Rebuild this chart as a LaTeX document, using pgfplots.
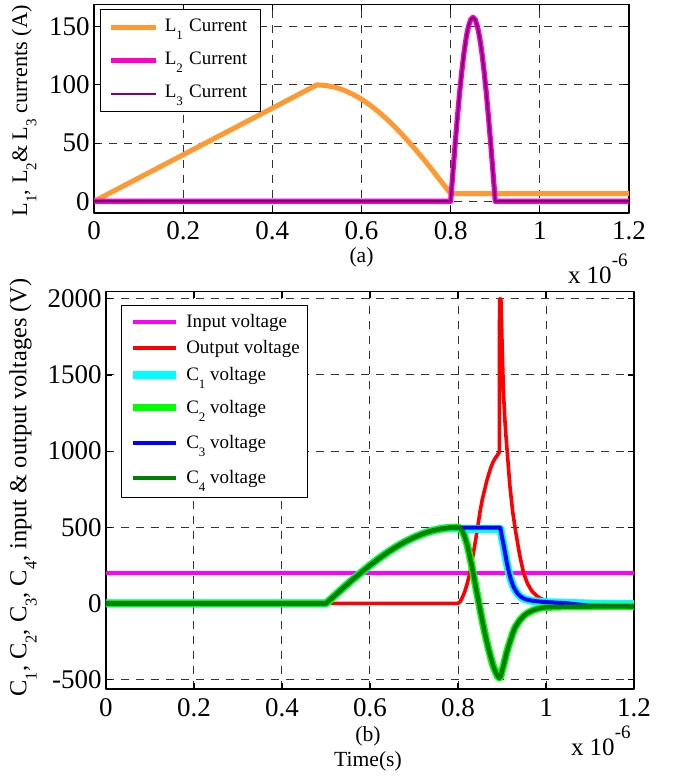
\documentclass[border=0pt]{standalone}
\usepackage{fontspec}
\setmainfont{Liberation Serif}
\usepackage{graphicx}
\usepackage{pgfplots}
\pgfplotsset{compat=1.18}
\definecolor{lorange}{RGB}{255,153,51}
\definecolor{lmag}{RGB}{255,0,204}
\definecolor{lpurp}{RGB}{125,0,120}
\definecolor{vin}{RGB}{255,0,255}
\definecolor{vout}{RGB}{255,0,0}
\definecolor{cone}{RGB}{0,255,255}
\definecolor{ctwo}{RGB}{0,255,0}
\definecolor{cthree}{RGB}{0,0,255}
\definecolor{cfour}{RGB}{0,128,0}
\newcommand{\sub}[1]{\raisebox{-0.42em}{\scalebox{0.68}{#1}}}
\pgfplotsset{
  mystyle/.style={
    scale only axis,
    clip mode=individual,
    xmin=0, xmax=1.2,
    xtick={0,0.2,0.4,0.6,0.8,1,1.2},
    grid=major,
    major grid style={black!80, line width=0.5pt, dash pattern=on 4pt off 3.5pt},
    tick align=inside,
    major tick length=3pt,
    tick style={black, line width=0.6pt},
    axis line style={black, line width=0.7pt},
    tick label style={font=\fontsize{13.5}{15}\selectfont},
    /pgf/number format/assume math mode=true,
    /pgf/number format/1000 sep={},
    scaled ticks=false,
    xticklabel style={anchor=base, yshift=-13.5pt},
    yticklabel style={anchor=east, inner xsep=0pt, xshift=-2pt},
    line join=round,
  }
}
\begin{document}
\begin{tikzpicture}
\useasboundingbox (0,0) rectangle (337.5pt,389pt);
% ---------------- (a) ----------------
\begin{axis}[mystyle,
  at={(47pt,282.5pt)}, anchor=south west,
  width=267.5pt, height=104.25pt,
  ymin=-10, ymax=169,
  ytick={0,50,100,150},
  xlabel={(a)},
  xlabel style={at={(axis description cs:0.5,0)}, anchor=base, yshift=-25pt, font=\fontsize{10.8}{12}\selectfont},
  ylabel={L\sub{1}, L\sub{2}\& L\sub{3} currents (A)},
  ylabel style={at={(axis description cs:-0.1252,0.49)}, anchor=base, font=\fontsize{11.1}{13}\selectfont},
  legend image code/.code={\draw[#1] (0pt,2pt) -- (22.5pt,2pt);},
  legend style={at={(axis description cs:0.0112,0.978)}, anchor=north west,
    draw=black, line width=0.6pt, fill=white,
    inner xsep=4pt, inner ysep=0.75pt, row sep=0pt, column sep=3pt,
    font=\fontsize{9.5}{11}\selectfont,
    cells={anchor=base west},
    nodes={inner xsep=0pt, inner ysep=3.25pt, text height=7pt, text depth=3pt, text width=44pt}},
]
\addplot[lorange, line width=2.5pt] coordinates {
(0,0) (0.5,100) (0.52,99.5) (0.54,98.0) (0.56,95.5) (0.58,92.0) (0.60,87.7)
(0.62,82.4) (0.64,76.3) (0.66,69.5) (0.68,61.9) (0.70,53.7) (0.72,45.0)
(0.74,35.9) (0.76,26.3) (0.78,16.4) (0.80,6.6) (1.2,6.6)
};
\addlegendentry{L\sub{1} Current}
\addplot[lmag, line width=2.6pt] coordinates {
(0,0) (0.8,0) (0.805,24.7) (0.81,48.8) (0.815,71.7) (0.82,92.9) (0.825,111.7)
(0.83,127.8) (0.835,140.8) (0.84,150.3) (0.845,156.1) (0.85,158) (0.855,156.1)
(0.86,150.3) (0.865,140.8) (0.87,127.8) (0.875,111.7) (0.88,92.9) (0.885,71.7)
(0.89,48.8) (0.895,24.7) (0.9,0) (1.2,0)
};
\addlegendentry{L\sub{2} Current}
\addplot[lpurp, line width=1.1pt] coordinates {
(0,0) (0.8,0) (0.805,24.7) (0.81,48.8) (0.815,71.7) (0.82,92.9) (0.825,111.7)
(0.83,127.8) (0.835,140.8) (0.84,150.3) (0.845,156.1) (0.85,158) (0.855,156.1)
(0.86,150.3) (0.865,140.8) (0.87,127.8) (0.875,111.7) (0.88,92.9) (0.885,71.7)
(0.89,48.8) (0.895,24.7) (0.9,0) (1.2,0)
};
\addlegendentry{L\sub{3} Current}
\node[anchor=base east, xshift=-0.5pt, yshift=-35.5pt, font=\fontsize{12.5}{14}\selectfont, inner sep=0pt]
  at (rel axis cs:1,0) {x 10\raisebox{8.5pt}{\fontsize{9.5}{10}\selectfont -6}};
\end{axis}
% ---------------- (b) ----------------
\begin{axis}[mystyle,
  at={(53pt,44.5pt)}, anchor=south west,
  width=264pt, height=198.6pt,
  ymin=-562, ymax=2046,
  ytick={-500,0,500,1000,1500,2000},
  xlabel={(b)},
  xlabel style={at={(axis description cs:0.5,0)}, anchor=base, xshift=-1pt, yshift=-26.5pt, font=\fontsize{10.8}{12}\selectfont},
  ylabel={C\sub{1}, C\sub{2}, C\sub{3}, C\sub{4}, input \& output voltages (V)},
  ylabel style={at={(axis description cs:-0.1506,0.5076)}, anchor=base, font=\fontsize{12.2}{13}\selectfont},
  legend image code/.code={\draw[#1] (0pt,3pt) -- (21.5pt,3pt);},
  legend style={at={(axis description cs:0.0278,0.9665)}, anchor=north west,
    draw=black, line width=0.6pt, fill=white,
    inner xsep=4pt, inner ysep=0.5pt, row sep=0pt, column sep=3pt,
    font=\fontsize{9.5}{11}\selectfont,
    cells={anchor=base west},
    nodes={inner xsep=0pt, inner ysep=1.5pt, text height=7.5pt, text depth=3pt}},
]
\addplot[vin, line width=2pt] coordinates {(0,200) (1.2,200)};
\addlegendentry[text height=9pt, text depth=2.5pt]{Input voltage}
\addplot[vout, line width=1.8pt] coordinates {
(0,0) (0.8,0) (0.805,12) (0.81,40) (0.815,75) (0.82,120) (0.825,175) (0.83,245)
(0.835,330) (0.84,415) (0.845,505) (0.85,600) (0.855,680) (0.86,740) (0.865,800)
(0.87,850) (0.875,895) (0.88,930) (0.885,955) (0.89,975) (0.894,995)
(0.8945,2000) (0.8975,2000) (0.8995,1780) (0.9015,1560) (0.9035,1380) (0.906,1230)
(0.909,1100) (0.912,990) (0.918,770) (0.924,610) (0.93,490) (0.94,320) (0.949,200)
(0.958,130) (0.968,80) (0.978,52) (0.987,33) (1.0,18) (1.02,11) (1.2,10)
};
\addlegendentry[text depth=3pt]{Output voltage}
\addplot[cone, line width=4pt] coordinates {
(0,0) (0.5,0) (0.52,52) (0.54,104) (0.56,155) (0.58,203) (0.6,250) (0.62,294)
(0.64,335) (0.66,372) (0.68,405) (0.7,433) (0.72,457) (0.74,476) (0.76,489)
(0.78,495) (0.8,492) (0.805,490) (0.896,490) (0.898,460) (0.9,430) (0.903,390)
(0.906,345) (0.91,280) (0.914,225) (0.918,178) (0.922,140) (0.926,110) (0.93,88)
(0.937,58) (0.945,38) (0.953,27) (0.962,20) (0.972,15) (0.985,11) (1.0,8)
(1.05,3) (1.1,-2) (1.2,-5)
};
\addlegendentry[text depth=6pt]{C\sub{1} voltage}
\addplot[ctwo, line width=3.7pt] coordinates {
(0,0) (0.5,0) (0.52,52) (0.54,104) (0.56,155) (0.58,203) (0.6,250) (0.62,294)
(0.64,335) (0.66,372) (0.68,405) (0.7,433) (0.72,457) (0.74,476) (0.76,489)
(0.78,497) (0.8,500) (0.805,493) (0.81,475) (0.815,440) (0.82,395) (0.825,335)
(0.83,265) (0.835,195) (0.84,115) (0.845,40) (0.85,-35) (0.855,-110) (0.86,-180)
(0.865,-245) (0.87,-305) (0.875,-360) (0.88,-410) (0.885,-448) (0.89,-478)
(0.894,-490) (0.897,-480) (0.9,-445) (0.905,-390) (0.91,-330) (0.915,-280)
(0.92,-235) (0.925,-192) (0.93,-157) (0.94,-112) (0.95,-80) (0.96,-60)
(0.97,-46) (0.98,-36) (0.99,-29) (1.0,-25) (1.05,-21) (1.2,-20)
};
\addlegendentry[text depth=7pt]{C\sub{2} voltage}
\addplot[cthree, line width=2pt] coordinates {
(0,0) (0.5,0) (0.52,52) (0.54,104) (0.56,155) (0.58,203) (0.6,250) (0.62,294)
(0.64,335) (0.66,372) (0.68,405) (0.7,433) (0.72,457) (0.74,476) (0.76,489)
(0.78,497) (0.8,498) (0.896,498) (0.898,465) (0.9,435) (0.903,393)
(0.906,347) (0.91,282) (0.914,226) (0.918,179) (0.922,141) (0.926,111) (0.93,89)
(0.937,59) (0.945,39) (0.953,28) (0.962,21) (0.972,16) (0.985,12) (1.0,9)
(1.05,0) (1.1,-16) (1.2,-19)
};
\addlegendentry[text depth=7pt]{C\sub{3} voltage}
\addplot[cfour, line width=2.2pt] coordinates {
(0,0) (0.5,0) (0.52,52) (0.54,104) (0.56,155) (0.58,203) (0.6,250) (0.62,294)
(0.64,335) (0.66,372) (0.68,405) (0.7,433) (0.72,457) (0.74,476) (0.76,489)
(0.78,497) (0.8,500) (0.805,493) (0.81,475) (0.815,440) (0.82,395) (0.825,335)
(0.83,265) (0.835,195) (0.84,115) (0.845,40) (0.85,-35) (0.855,-110) (0.86,-180)
(0.865,-245) (0.87,-305) (0.875,-360) (0.88,-410) (0.885,-448) (0.89,-478)
(0.894,-490) (0.897,-480) (0.9,-445) (0.905,-390) (0.91,-330) (0.915,-280)
(0.92,-235) (0.925,-192) (0.93,-157) (0.94,-112) (0.95,-80) (0.96,-60)
(0.97,-46) (0.98,-36) (0.99,-29) (1.0,-25) (1.05,-21) (1.2,-20)
};
\addlegendentry[text depth=5pt]{C\sub{4} voltage}
\node[anchor=base east, xshift=-1.5pt, yshift=-33pt, font=\fontsize{12.5}{14}\selectfont, inner sep=0pt]
  at (rel axis cs:1,0) {x 10\raisebox{8.5pt}{\fontsize{9.5}{10}\selectfont -6}};
\node[anchor=base, xshift=-1pt, yshift=-38.5pt, font=\fontsize{10.8}{12}\selectfont, inner sep=0pt]
  at (rel axis cs:0.5,0) {Time(s)};
\end{axis}
\end{tikzpicture}
\end{document}
